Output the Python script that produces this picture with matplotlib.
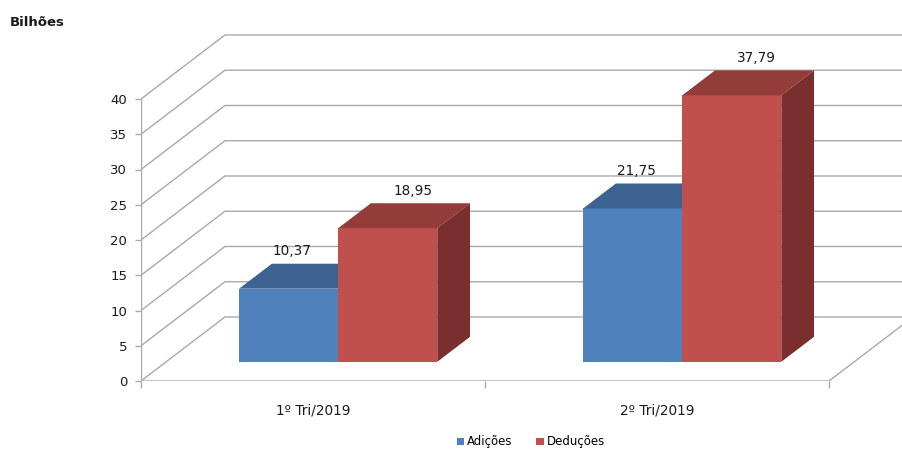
import matplotlib
matplotlib.use("Agg")
import matplotlib.pyplot as plt
from matplotlib.patches import Polygon, Patch
import numpy as np

categories = ["1º Tri/2019", "2º Tri/2019"]
adicoes = [10.37, 21.75]
deducoes = [18.95, 37.79]
series_names = ["Adições", "Deduções"]
yticks = list(range(0, 45, 5))

plt.rcParams['font.family'] = ['DejaVu Sans']

fig = plt.figure(figsize=(9.03, 4.5), dpi=100)
ax = fig.add_axes([141/903, 69/450, 762/903, 352.5/450])
ax.set_xlim(-0.5, 1.715)
ax.set_ylim(0, 50)

# pseudo-3D geometry (data units)
DX, DY = 0.244, 9.08          # full depth offset of the floor / walls
d0, d1 = 0.30, 0.69           # bar depth range as fraction of full depth
bx, by = d0 * DX, d0 * DY     # shift of bar front face
sx, sy = (d1 - d0) * DX, (d1 - d0) * DY  # bar depth
width = 0.288

grid_c = "#a9a9a9"
xl = ax.get_xlim()
for v in yticks:
    ax.plot([xl[0], xl[0] + DX, xl[1]], [v, v + DY, v + DY], color=grid_c, lw=1.0, zorder=1, clip_on=True)
# floor front line and right diagonal
ax.plot([-0.5, 1.5, 1.5 + DX], [0, 0, DY], color=grid_c, lw=1.0, zorder=1)
ax.plot([-0.5, -0.5], [0, 40], color=grid_c, lw=1.0, zorder=1)

colors = {
    "Adições": ("#4F81BD", "#3C6391", "#2F4E73"),
    "Deduções": ("#C0504D", "#933C3A", "#7A2F2E"),
}

x = np.arange(len(categories))
offsets = [-width / 2, width / 2]
label_dx = [0.01, 0.073]
for i in range(len(categories)):
    for s, (name, vals) in enumerate(zip(series_names, [adicoes, deducoes])):
        front, top, side = colors[name]
        xc = x[i] + offsets[s] + bx
        v = vals[i]
        ax.bar(xc, v, width=width, bottom=by, color=front, zorder=3 + 2 * i + s, linewidth=0)
        x0, x1 = xc - width / 2, xc + width / 2
        ytop = v + by
        ax.add_patch(Polygon([(x0, ytop), (x1, ytop), (x1 + sx, ytop + sy), (x0 + sx, ytop + sy)],
                             closed=True, facecolor=top, edgecolor='none', zorder=3 + 2 * i + s))
        ax.add_patch(Polygon([(x1, by), (x1 + sx, by + sy), (x1 + sx, ytop + sy), (x1, ytop)],
                             closed=True, facecolor=side, edgecolor='none', zorder=3 + 2 * i + s))
        ax.text(xc + label_dx[s], v + 8.0, f"{v:.2f}".replace(".", ","), ha='center', va='center',
                fontsize=9.8, color="#1a1a1a", zorder=20)

for sp in ax.spines.values():
    sp.set_visible(False)
ax.set_yticks(yticks)
ax.set_yticklabels([str(t) for t in yticks])
ax.tick_params(axis='y', length=4, width=1, color=grid_c, pad=6, labelsize=9.5, labelcolor="#1a1a1a")
ax.set_xticks([-0.5, 0.5, 1.5])
ax.set_xticklabels(["", "", ""])
ax.tick_params(axis='x', which='major', length=5, width=1, color=grid_c)
ax.set_xticks(x, minor=True)
ax.set_xticklabels(categories, minor=True)
ax.tick_params(axis='x', which='minor', length=0, pad=16, labelsize=9.8, labelcolor="#1a1a1a")

fig.text(10/903, 1 - 22/450, "Bilhões", fontsize=9.5, fontweight='bold', va='center', ha='left', color="#1a1a1a")

handles = [Patch(facecolor=colors[n][0], edgecolor='none', label=n) for n in series_names]
fig.legend(handles=handles, loc='center', bbox_to_anchor=(531/903, 8/450), ncol=2, frameon=False,
           fontsize=8.5, handlelength=0.6, handleheight=0.6, handletextpad=0.3, columnspacing=2.0)

fig.savefig("out.png", dpi=100)
